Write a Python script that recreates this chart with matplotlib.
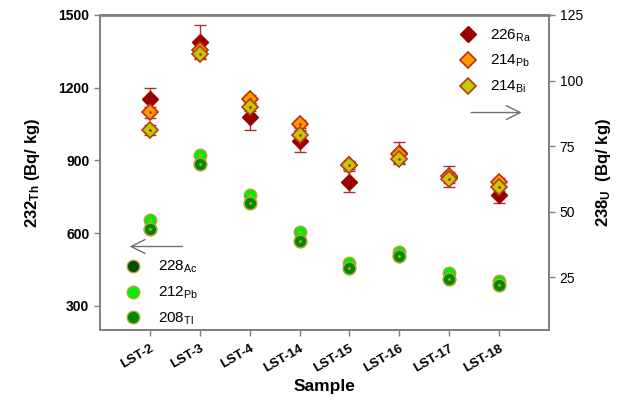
import matplotlib
matplotlib.use("Agg")
import matplotlib.pyplot as plt
import numpy as np

plt.rcParams['font.family'] = ['Liberation Sans', 'DejaVu Sans']
plt.rcParams['mathtext.fontset'] = 'custom'
plt.rcParams['mathtext.rm'] = 'Liberation Sans'
plt.rcParams['mathtext.bf'] = 'Liberation Sans:bold'

samples = ["LST-2", "LST-3", "LST-4", "LST-14", "LST-15", "LST-16", "LST-17", "LST-18"]

# Thorium series (left axis, Bq/kg)
ac228 = [618, 886, 724, 568, 457, 506, 411, 387]
pb212 = [652, 922, 757, 604, 476, 522, 435, 402]
tl208 = [617, 885, 723, 567, 456, 505, 410, 386]

# Uranium series (right axis, Bq/kg)
ra226 = [92.8, 114.8, 86.0, 76.9, 61.4, 72.3, 63.3, 56.3]
ra226_err = [4.5, 6.4, 5.0, 4.2, 4.0, 4.2, 4.0, 3.0]
pb214 = [87.9, 111.7, 92.8, 83.3, 67.9, 72.0, 63.6, 61.4]
pb214_err = [2.0, 2.0, 1.5, 1.5, 1.5, 1.5, 1.5, 1.5]
bi214 = [81.1, 110.2, 89.8, 79.2, 67.8, 70.1, 62.5, 59.5]
bi214_err = [2.0, 2.0, 1.5, 1.5, 1.5, 1.5, 1.5, 1.5]

x = np.arange(len(samples))

fig = plt.figure(figsize=(6.32, 4.01), dpi=100)
ax = fig.add_axes([0.158, 0.177, 0.711, 0.786])
ax2 = ax.twinx()

gray = '#808080'
ms_c = 9
h_ac, = ax.plot(x, ac228, 'o', ms=ms_c, mfc='#004d00', mec='#b8a040', mew=1.0, ls='none', zorder=3)
ax.plot(x, ac228, '.', ms=2, color='#c0a040', ls='none', zorder=3)
h_pb2, = ax.plot(x, pb212, 'o', ms=ms_c, mfc='#00ee00', mec='#b8a040', mew=1.0, ls='none', zorder=4)
ax.plot(x, pb212, '.', ms=2, color='#c0a040', ls='none', zorder=4)
h_tl, = ax.plot(x, tl208, 'o', ms=ms_c, mfc='#008a00', mec='#b8a040', mew=1.0, ls='none', zorder=5)
ax.plot(x, tl208, '.', ms=2, color='#c0a040', ls='none', zorder=5)

ms_d = 8
ax2.errorbar(x, ra226, yerr=ra226_err, fmt='none', ecolor='#b03030', elinewidth=1.0, capsize=4, capthick=1.0, zorder=2)
ax2.errorbar(x, pb214, yerr=pb214_err, fmt='none', ecolor='#b03030', elinewidth=1.0, capsize=4, capthick=1.0, zorder=2)
ax2.errorbar(x, bi214, yerr=bi214_err, fmt='none', ecolor='#b03030', elinewidth=1.0, capsize=4, capthick=1.0, zorder=2)
h_ra, = ax2.plot(x, ra226, 'D', ms=ms_d, mfc='#990000', mec='#990000', mew=1.0, ls='none', zorder=3)
h_pb4, = ax2.plot(x, pb214, 'D', ms=ms_d, mfc='#ff9900', mec='#c03000', mew=1.2, ls='none', zorder=4)
ax2.plot(x, pb214, '.', ms=2, color='#a03000', ls='none', zorder=4)
h_bi, = ax2.plot(x, bi214, 'D', ms=ms_d, mfc='#c8c800', mec='#b04020', mew=1.2, ls='none', zorder=5)
ax2.plot(x, bi214, '.', ms=2, color='#a03000', ls='none', zorder=5)

ax.set_xlim(-1, 8)
ax.set_ylim(200, 1500)
ax2.set_ylim(5, 125)
ax.set_yticks([300, 600, 900, 1200, 1500])
ax2.set_yticks([25, 50, 75, 100, 125])
ax.set_xticks(x)
ax.set_xticklabels(samples, rotation=30, ha='right', rotation_mode='anchor',
                   fontsize=9.5, fontweight='bold')
for lab in ax.get_yticklabels():
    lab.set_fontweight('bold')
ax.tick_params(axis='y', labelsize=10, length=4, color=gray, width=1)
ax.tick_params(axis='x', length=4, color=gray, width=1, pad=5)
ax2.tick_params(axis='y', labelsize=10, length=4, color=gray, width=1)

for a in (ax, ax2):
    for s in a.spines.values():
        s.set_color(gray)
        s.set_linewidth(1.3)
ax.spines['top'].set_linewidth(2)

ax.set_ylabel(r'$\mathbf{232_{Th}}$ (Bq/ kg)', fontsize=12, fontweight='bold', labelpad=12)
ax2.set_ylabel(r'$\mathbf{238_{U}}$  (Bq/ kg)', fontsize=12, fontweight='bold', labelpad=8)
ax.set_xlabel('Sample', fontsize=12.5, fontweight='bold', labelpad=3)

leg1 = ax2.legend([h_ra, h_pb4, h_bi],
                  [r'$\mathregular{226_{Ra}}$', r'$\mathregular{214_{Pb}}$', r'$\mathregular{214_{Bi}}$'],
                  loc='upper right', bbox_to_anchor=(0.98, 0.99), frameon=False, fontsize=11,
                  handletextpad=0.4, labelspacing=0.62, borderaxespad=0.2)
leg2 = ax2.legend([h_ac, h_pb2, h_tl],
                  [r'$\mathregular{228_{Ac}}$', r'$\mathregular{212_{Pb}}$', r'$\mathregular{208_{Tl}}$'],
                  loc='lower left', bbox_to_anchor=(0.02, -0.02), frameon=False, fontsize=11,
                  handletextpad=0.6, labelspacing=0.62, borderaxespad=0.2)
ax2.add_artist(leg1)

# arrows indicating axes
ax.annotate('', xy=(0.06, 0.265), xytext=(0.19, 0.265), xycoords='axes fraction',
            arrowprops=dict(arrowstyle='->', color='#707070', lw=1.0, mutation_scale=25))
ax.annotate('', xy=(0.945, 0.69), xytext=(0.82, 0.69), xycoords='axes fraction',
            arrowprops=dict(arrowstyle='->', color='#707070', lw=1.0, mutation_scale=25))

fig.savefig('out.png', dpi=100)
